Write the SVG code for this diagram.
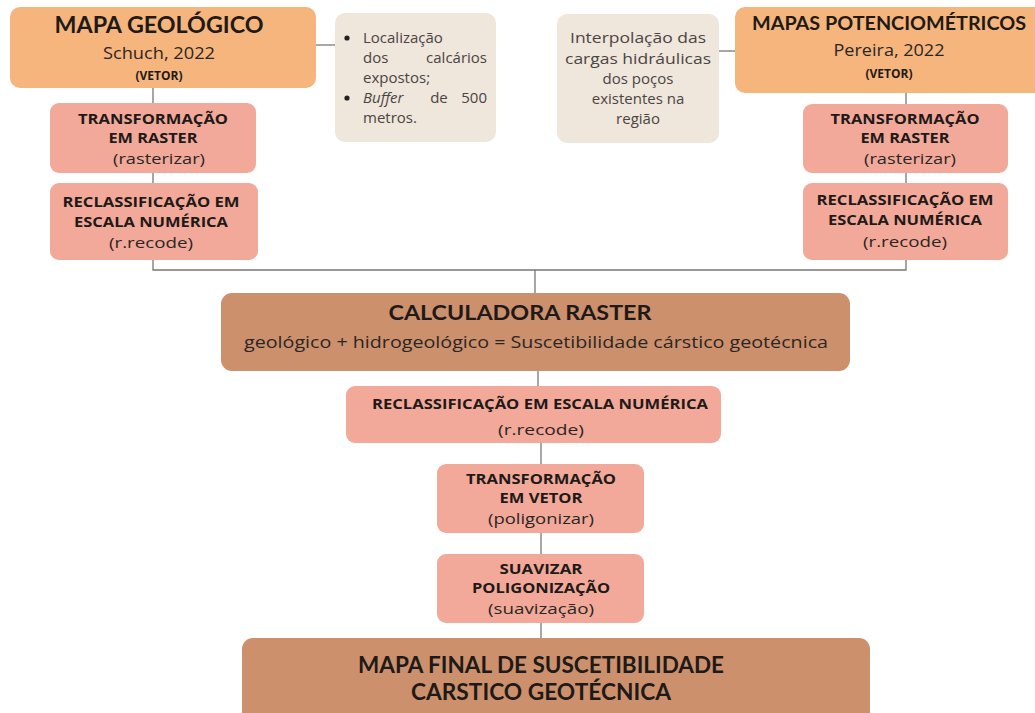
<svg xmlns="http://www.w3.org/2000/svg" width="1035" height="713" viewBox="0 0 1035 713">
<style>
.t{font-family:"Open Sans","Liberation Sans",sans-serif;fill:#1e1a18;text-anchor:middle}
.h{font-family:Lato,"Open Sans","Liberation Sans",sans-serif;font-weight:bold}
.b{font-weight:bold}
.r{font-weight:normal;fill:#2a2624}
.s{font-size:15px}
.k{font-size:14.5px;font-weight:bold}
.n{font-family:"Open Sans","Liberation Sans",sans-serif;font-size:15px;fill:#4a4542}
.orange{fill:#f5b57d}
.salmon{fill:#f3a99a}
.brown{fill:#cd906c}
.note{fill:#efe6dc}
.c{stroke:#7a7676;stroke-width:1.3;fill:none}
</style>
<rect width="1035" height="713" fill="#ffffff"/>
<g id="connectors">
<line class="c" x1="316" y1="45" x2="335" y2="45"/>
<line class="c" x1="719" y1="51" x2="735" y2="51"/>
<line class="c" x1="153" y1="88" x2="153" y2="103"/>
<line class="c" x1="153" y1="173" x2="153" y2="183"/>
<line class="c" x1="906" y1="93" x2="906" y2="104"/>
<line class="c" x1="906" y1="173" x2="906" y2="183"/>
<polyline class="c" points="153,260 153,270 906,270 906,260"/>
<line class="c" x1="535" y1="270" x2="535" y2="293"/>
<line class="c" x1="538" y1="371" x2="538" y2="386"/>
<line class="c" x1="541" y1="443" x2="541" y2="464"/>
<line class="c" x1="541" y1="533" x2="541" y2="554"/>
<line class="c" x1="541" y1="623" x2="541" y2="638"/>
</g>
<g id="mapa-geologico">
<rect class="orange" x="10" y="7" width="306" height="81" rx="10"/>
<text class="t h" x="159" y="33" font-size="22" textLength="209" lengthAdjust="spacingAndGlyphs">MAPA GEOLÓGICO</text>
<text class="t r" x="159" y="59" font-size="16" textLength="112" lengthAdjust="spacingAndGlyphs">Schuch, 2022</text>
<text class="t b" x="159" y="80" font-size="12">(VETOR)</text>
</g>
<g id="nota-geologico">
<rect class="note" x="335" y="13" width="161" height="129" rx="10"/>
<circle cx="347" cy="38" r="2.6" fill="#222"/>
<circle cx="347" cy="98" r="2.6" fill="#222"/>
<text class="n" x="363" y="43">Localização</text>
<text class="n" x="363" y="63">dos</text>
<text class="n" x="487" y="63" text-anchor="end">calcários</text>
<text class="n" x="363" y="83">expostos;</text>
<text class="n" x="363" y="103" font-style="italic">Buffer</text>
<text class="n" x="439" y="103" text-anchor="middle">de</text>
<text class="n" x="487" y="103" text-anchor="end">500</text>
<text class="n" x="363" y="123">metros.</text>
</g>
<g id="nota-potenciometrico">
<rect class="note" x="557" y="14" width="162" height="129" rx="10"/>
<text class="n" x="638" y="43" text-anchor="middle" textLength="136" lengthAdjust="spacingAndGlyphs">Interpolação das</text>
<text class="n" x="638" y="64" text-anchor="middle" textLength="146" lengthAdjust="spacingAndGlyphs">cargas hidráulicas</text>
<text class="n" x="638" y="84" text-anchor="middle">dos poços</text>
<text class="n" x="638" y="104" text-anchor="middle">existentes na</text>
<text class="n" x="638" y="124" text-anchor="middle">região</text>
</g>
<g id="mapas-potenciometricos">
<rect class="orange" x="735" y="7" width="310" height="86" rx="10"/>
<text class="t h" x="889" y="30" font-size="19" textLength="274" lengthAdjust="spacingAndGlyphs">MAPAS POTENCIOMÉTRICOS</text>
<text class="t r" x="889" y="56" font-size="16" textLength="111" lengthAdjust="spacingAndGlyphs">Pereira, 2022</text>
<text class="t b" x="889" y="78" font-size="12">(VETOR)</text>
</g>
<g id="transformacao-raster-esq">
<rect class="salmon" x="50" y="103" width="206" height="70" rx="9"/>
<text class="t k" x="153" y="124" textLength="150" lengthAdjust="spacingAndGlyphs">TRANSFORMAÇÃO</text>
<text class="t k" x="153" y="143" textLength="89" lengthAdjust="spacingAndGlyphs">EM RASTER</text>
<text class="t r s" x="159" y="164" textLength="92" lengthAdjust="spacingAndGlyphs">(rasterizar)</text>
</g>
<g id="reclassificacao-esq">
<rect class="salmon" x="50" y="183" width="208" height="77" rx="9"/>
<text class="t k" x="151" y="207" textLength="177" lengthAdjust="spacingAndGlyphs">RECLASSIFICAÇÃO EM</text>
<text class="t k" x="151" y="227" textLength="154" lengthAdjust="spacingAndGlyphs">ESCALA NUMÉRICA</text>
<text class="t r s" x="151" y="248" textLength="84" lengthAdjust="spacingAndGlyphs">(r.recode)</text>
</g>
<g id="transformacao-raster-dir">
<rect class="salmon" x="803" y="104" width="205" height="69" rx="9"/>
<text class="t k" x="905" y="124" textLength="149" lengthAdjust="spacingAndGlyphs">TRANSFORMAÇÃO</text>
<text class="t k" x="905" y="143" textLength="89" lengthAdjust="spacingAndGlyphs">EM RASTER</text>
<text class="t r s" x="910" y="164" textLength="92" lengthAdjust="spacingAndGlyphs">(rasterizar)</text>
</g>
<g id="reclassificacao-dir">
<rect class="salmon" x="803" y="183" width="205" height="77" rx="9"/>
<text class="t k" x="905" y="205" textLength="177" lengthAdjust="spacingAndGlyphs">RECLASSIFICAÇÃO EM</text>
<text class="t k" x="905" y="225" textLength="154" lengthAdjust="spacingAndGlyphs">ESCALA NUMÉRICA</text>
<text class="t r s" x="905" y="247" textLength="84" lengthAdjust="spacingAndGlyphs">(r.recode)</text>
</g>
<g id="calculadora-raster">
<rect class="brown" x="221" y="293" width="629" height="78" rx="11"/>
<text class="t h" x="520" y="320" font-size="21" textLength="263" lengthAdjust="spacingAndGlyphs">CALCULADORA RASTER</text>
<text class="t r" x="536" y="348" font-size="17" textLength="584" lengthAdjust="spacingAndGlyphs">geológico + hidrogeológico = Suscetibilidade cárstico geotécnica</text>
</g>
<g id="reclassificacao-central">
<rect class="salmon" x="346" y="386" width="375" height="57" rx="9"/>
<text class="t k" x="540" y="409" textLength="336" lengthAdjust="spacingAndGlyphs">RECLASSIFICAÇÃO EM ESCALA NUMÉRICA</text>
<text class="t r s" x="541" y="435" textLength="86" lengthAdjust="spacingAndGlyphs">(r.recode)</text>
</g>
<g id="transformacao-vetor">
<rect class="salmon" x="437" y="464" width="207" height="69" rx="9"/>
<text class="t k" x="541" y="484" textLength="150" lengthAdjust="spacingAndGlyphs">TRANSFORMAÇÃO</text>
<text class="t k" x="541" y="503" textLength="83" lengthAdjust="spacingAndGlyphs">EM VETOR</text>
<text class="t r s" x="541" y="524" textLength="106" lengthAdjust="spacingAndGlyphs">(poligonizar)</text>
</g>
<g id="suavizar">
<rect class="salmon" x="437" y="554" width="207" height="69" rx="9"/>
<text class="t k" x="541" y="574" textLength="83" lengthAdjust="spacingAndGlyphs">SUAVIZAR</text>
<text class="t k" x="541" y="593" textLength="138" lengthAdjust="spacingAndGlyphs">POLIGONIZAÇÃO</text>
<text class="t r s" x="541" y="614" textLength="106" lengthAdjust="spacingAndGlyphs">(suavização)</text>
</g>
<g id="mapa-final">
<rect class="brown" x="242" y="638" width="628" height="90" rx="11"/>
<text class="t h" x="541" y="673" font-size="22" textLength="366" lengthAdjust="spacingAndGlyphs">MAPA FINAL DE SUSCETIBILIDADE</text>
<text class="t h" x="541" y="700" font-size="22" textLength="260" lengthAdjust="spacingAndGlyphs">CARSTICO GEOTÉCNICA</text>
</g>
</svg>
